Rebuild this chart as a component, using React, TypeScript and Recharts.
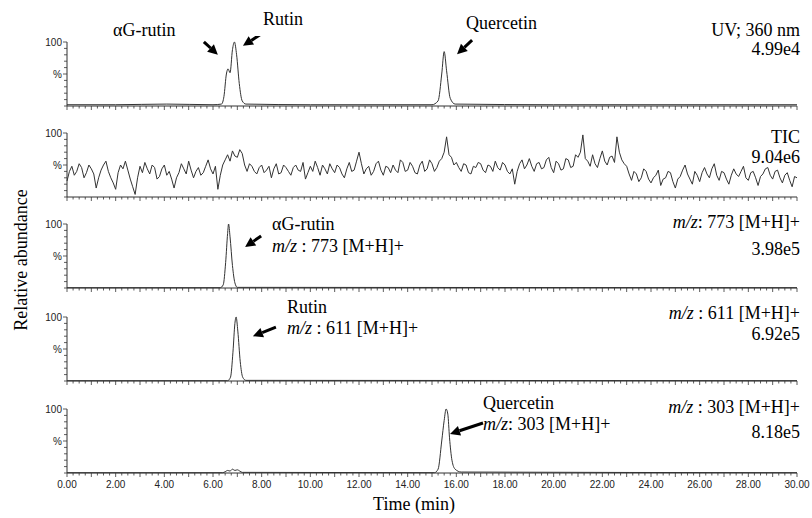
import { LineChart, Line, XAxis, YAxis, ReferenceDot } from "recharts";

// --- data (time in min, relative abundance in %) ---
const uvTime = [0, 2.0, 4.1, 6.0, 6.35, 6.45, 6.55, 6.62, 6.7, 6.8, 6.88, 6.97, 7.08, 7.2, 7.35, 10.0, 15.0, 15.25, 15.4, 15.5, 15.6, 15.75, 15.95, 20.0, 30];
const uvAbs = [2, 2, 3, 2, 3, 15, 50, 58, 52, 88, 100, 80, 35, 8, 3, 2, 2, 8, 50, 85, 55, 12, 3, 2, 2];

// TIC, one reading every 0.1 min
const ticStep = 0.1;
const ticAbs = [
  25, 40, 48, 34, 40, 52, 46, 30, 38, 50,
  44, 36, 14, 30, 42, 50, 56, 40, 30, 22,
  12, 38, 50, 44, 56, 42, 28, 16, 4, 30,
  48, 38, 54, 44, 36, 50, 46, 28, 32, 44,
  50, 34, 40, 28, 14, 30, 38, 52, 44, 36,
  56, 42, 30, 40, 46, 34, 38, 48, 58, 44,
  36, 48, 12, 34, 50, 58, 66, 56, 72, 64,
  62, 74, 68, 50, 40, 52, 48, 40, 36, 46,
  50, 38, 42, 48, 30, 44, 52, 36, 38, 50,
  46, 40, 34, 46, 50, 42, 40, 54, 28, 38,
  48, 40, 56, 46, 34, 50, 44, 36, 52, 44,
  38, 50, 46, 36, 30, 44, 54, 40, 42, 56,
  70, 52, 36, 44, 48, 34, 40, 52, 56, 42,
  34, 48, 46, 38, 50, 42, 38, 58, 54, 40,
  42, 54, 48, 38, 36, 50, 56, 40, 44, 58,
  52, 40, 46, 56, 60, 70, 94, 66, 62, 50,
  54, 46, 40, 52, 50, 38, 36, 48, 46, 54,
  52, 42, 38, 50, 48, 40, 56, 46, 42, 54,
  50, 40, 36, 44, 20, 40, 52, 58, 44, 50,
  60, 48, 40, 52, 54, 44, 46, 58, 62, 46,
  38, 56, 52, 42, 44, 60, 58, 46, 48, 66,
  62, 70, 97, 60, 56, 48, 66, 52, 46, 60,
  72, 56, 50, 62, 64, 54, 94, 70, 58, 52,
  48, 36, 26, 40, 36, 24, 30, 44, 40, 28,
  22, 30, 34, 42, 18, 28, 30, 40, 38, 24,
  14, 28, 32, 42, 50, 36, 28, 20, 40, 34,
  24, 38, 46, 36, 30, 44, 52, 34, 26, 40,
  38, 28, 20, 34, 44, 36, 32, 40, 48, 30,
  26, 38, 40, 30, 18, 32, 36, 44, 46, 34,
  28, 40, 42, 30, 22, 34, 38, 26, 16, 32,
  30,
];

const mz773Time = [0, 6.3, 6.42, 6.52, 6.6, 6.64, 6.7, 6.8, 6.9, 7.0, 30];
const mz773Abs = [0.5, 0.5, 5, 40, 85, 100, 80, 35, 8, 1, 0.5];

const mz611Time = [0, 6.6, 6.72, 6.82, 6.9, 6.95, 7.02, 7.12, 7.22, 7.35, 30];
const mz611Abs = [0.5, 0.5, 6, 45, 90, 100, 78, 30, 6, 1, 0.5];

const mz303Time = [0, 6.4, 6.5, 6.6, 6.7, 6.8, 6.9, 7.0, 7.1, 7.2, 15.1, 15.25, 15.4, 15.5, 15.58, 15.65, 15.72, 15.82, 15.95, 16.2, 30];
const mz303Abs = [0.5, 0.5, 2, 4, 3, 6, 4, 5, 3, 1, 0.5, 6, 50, 82, 100, 92, 55, 20, 6, 1.5, 0.5];

const xLabelTicks = [0, 2, 4, 6, 8, 10, 12, 14, 16, 18, 20, 22, 24, 26, 28, 30];
const xMinorTicks = Array.from({ length: 121 }, (_, i) => i * 0.25);
const yTicks = [0, 10, 20, 30, 40, 50, 60, 70, 80, 90, 100];

const zip = (ts: number[], vs: number[]) => ts.map((t, i) => ({ t, v: vs[i] }));

const SERIF = "'Liberation Serif', 'Times New Roman', serif";
const SANS = "'Liberation Sans', Arial, sans-serif";
const INK = "#333";

type Arrow = { t: number; v: number; dx: number; dy: number };

function ArrowMark({ cx, cy, dx, dy }: { cx: number; cy: number; dx: number; dy: number }) {
  const len = Math.hypot(dx, dy);
  const ux = dx / len;
  const uy = dy / len;
  const head = 10;
  const bx = cx + ux * head;
  const by = cy + uy * head;
  const px = -uy * 5;
  const py = ux * 5;
  return (
    <g>
      <line x1={cx + dx} y1={cy + dy} x2={bx} y2={by} stroke="#000" strokeWidth={3} />
      <polygon points={`${cx},${cy} ${bx + px},${by + py} ${bx - px},${by - py}`} fill="#000" />
    </g>
  );
}

function XTick(props: any) {
  const { x, y, payload, showLabels } = props;
  const v = payload.value as number;
  const whole = Math.abs(v - Math.round(v)) < 1e-6;
  const labeled = showLabels && whole && xLabelTicks.includes(Math.round(v));
  return (
    <g>
      <line x1={x} x2={x} y1={y} y2={y + (whole ? 4 : 2.5)} stroke={INK} strokeWidth={0.8} />
      {labeled && (
        <text x={x} y={y + 15} textAnchor="middle" fontSize={10} fontFamily={SANS} fill="#222">
          {v.toFixed(2)}
        </text>
      )}
    </g>
  );
}

function YTick(props: any) {
  const { x, y, payload } = props;
  const v = payload.value as number;
  const major = v === 100 || v === 50;
  const len = major ? 4 : 3;
  return (
    <g>
      <line x1={x - len} x2={x} y1={y} y2={y} stroke={INK} strokeWidth={0.8} />
      {v === 100 && (
        <text x={x - len - 1} y={y + 3.5} textAnchor="end" fontSize={10} fontFamily={SANS} fill="#222">100</text>
      )}
      {v === 50 && (
        <text x={x - len - 1} y={y + 3.5} textAnchor="end" fontSize={10} fontFamily={SANS} fill="#222">%</text>
      )}
    </g>
  );
}

function Trace({ data, top, showLabels = false, arrows = [], curve = "monotone" }: {
  data: { t: number; v: number }[];
  top: number;
  showLabels?: boolean;
  arrows?: Arrow[];
  curve?: "monotone" | "linear";
}) {
  const xH = showLabels ? 22 : 8;
  return (
    <div style={{ position: "absolute", left: 0, top: top - 6 }}>
      <LineChart width={812} height={6 + 64 + xH} data={data} margin={{ top: 6, right: 15, bottom: 0, left: 7 }}>
        <XAxis
          dataKey="t"
          type="number"
          domain={[0, 30]}
          ticks={xMinorTicks}
          interval={0}
          tickSize={0}
          tickMargin={0}
          tickLine={false}
          height={xH}
          axisLine={{ stroke: INK }}
          tick={(p: any) => <XTick {...p} showLabels={showLabels} />}
        />
        <YAxis
          type="number"
          domain={[0, 100]}
          ticks={yTicks}
          interval={0}
          width={60}
          tickSize={0}
          tickMargin={0}
          tickLine={false}
          axisLine={{ stroke: INK }}
          tick={(p: any) => <YTick {...p} />}
        />
        <Line dataKey="v" type={curve} stroke={INK} strokeWidth={1} dot={false} isAnimationActive={false} />
        {arrows.map((a, i) => (
          <ReferenceDot
            key={i}
            x={a.t}
            y={a.v}
            r={0}
            ifOverflow="visible"
            shape={(p: any) => <ArrowMark cx={p.cx} cy={p.cy} dx={a.dx} dy={a.dy} />}
          />
        ))}
      </LineChart>
    </div>
  );
}

function Label({ x, y, children, anchor = "start" }: { x: number; y: number; children: any; anchor?: "start" | "end" | "middle" }) {
  return (
    <text x={x} y={y} textAnchor={anchor} fontFamily={SERIF} fontSize={18} fill="#000">
      {children}
    </text>
  );
}

const MZ = () => <tspan fontStyle="italic">m/z</tspan>;

export default function App() {
  const ticData = ticAbs.map((v, i) => ({ t: +(i * ticStep).toFixed(2), v }));
  return (
    <div style={{ position: "absolute", left: 0, top: 0, width: 812, height: 518, background: "#fff", overflow: "hidden" }}>
      <Trace
        data={zip(uvTime, uvAbs)}
        top={42}
        arrows={[
          { t: 6.2, v: 80, dx: -14, dy: -13 },
          { t: 7.23, v: 94, dx: 20, dy: -13 },
          { t: 16.03, v: 81, dx: 15, dy: -14 },
        ]}
      />
      <Trace data={ticData} top={133} curve="linear" />
      <Trace data={zip(mz773Time, mz773Abs)} top={224} arrows={[{ t: 7.32, v: 64, dx: 16, dy: -11 }]} />
      <Trace data={zip(mz611Time, mz611Abs)} top={317} arrows={[{ t: 7.64, v: 70, dx: 23, dy: -9 }]} />
      <Trace data={zip(mz303Time, mz303Abs)} top={409} showLabels arrows={[{ t: 15.74, v: 61, dx: 33, dy: -11 }]} />

      <svg width={812} height={518} style={{ position: "absolute", left: 0, top: 0, pointerEvents: "none" }}>
        {/* panel 1 */}
        <Label x={113} y={36}>αG-rutin</Label>
        <Label x={263} y={25}>Rutin</Label>
        <Label x={466} y={29}>Quercetin</Label>
        <Label x={800} y={36} anchor="end">UV; 360 nm</Label>
        <Label x={800} y={55} anchor="end">4.99e4</Label>
        {/* panel 2 */}
        <Label x={800} y={143} anchor="end">TIC</Label>
        <Label x={800} y={163} anchor="end">9.04e6</Label>
        {/* panel 3 */}
        <Label x={272} y={230}>αG-rutin</Label>
        <Label x={272} y={252}><MZ /> : 773 [M+H]+</Label>
        <Label x={800} y={228} anchor="end"><MZ />: 773  [M+H]+</Label>
        <Label x={800} y={255} anchor="end">3.98e5</Label>
        {/* panel 4 */}
        <Label x={287} y={313}>Rutin</Label>
        <Label x={287} y={334}><MZ /> : 611 [M+H]+</Label>
        <Label x={800} y={319} anchor="end"><MZ /> : 611 [M+H]+</Label>
        <Label x={800} y={340} anchor="end">6.92e5</Label>
        {/* panel 5 */}
        <Label x={483} y={409}>Quercetin</Label>
        <Label x={483} y={430}><MZ />: 303 [M+H]+</Label>
        <Label x={800} y={413} anchor="end"><MZ /> : 303 [M+H]+</Label>
        <Label x={800} y={438} anchor="end">8.18e5</Label>
        {/* axis titles */}
        <text x={414} y={510} textAnchor="middle" fontFamily={SERIF} fontSize={18}>Time (min)</text>
        <text x={27} y={260} textAnchor="middle" fontFamily={SERIF} fontSize={18} transform="rotate(-90, 27, 260)">
          Relative abundance
        </text>
      </svg>
    </div>
  );
}
